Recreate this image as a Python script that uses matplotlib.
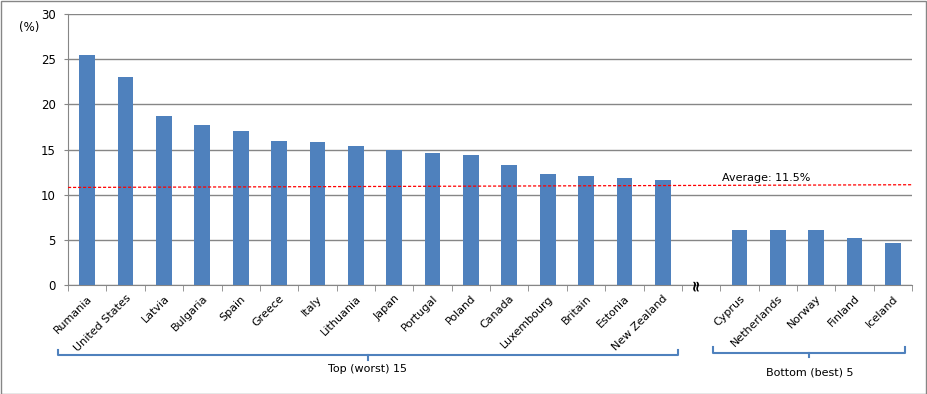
import numpy as np
import matplotlib.pyplot as plt

# top (worst) and bottom (best) groups
top_names = ["Rumania", "United States", "Latvia", "Bulgaria", "Spain", "Greece", "Italy",
             "Lithuania", "Japan", "Portugal", "Poland", "Canada", "Luxembourg", "Britain",
             "Estonia", "New Zealand"]
top_vals = [25.5, 23.0, 18.7, 17.7, 17.1, 15.9, 15.8, 15.4, 14.9, 14.6, 14.4, 13.3, 12.3, 12.1,
            11.8, 11.6]
bottom_names = ["Cyprus", "Netherlands", "Norway", "Finland", "Iceland"]
bottom_vals = [6.1, 6.1, 6.1, 5.2, 4.7]
avg_line = [10.8, 11.1]  # drawn slightly tilted in the original
avg_label = "Average: 11.5%"

blue = "#4F81BD"
grid = "#868686"

n_top = len(top_names)
x_top = np.arange(n_top)
x_bot = np.arange(len(bottom_names)) + n_top + 1
n_slots = n_top + 1 + len(bottom_names)

fig = plt.figure(figsize=(9.27, 3.94), dpi=100)
ax = fig.add_axes([0.0734, 0.2766, 0.9106, 0.6879])

ax.bar(x_top, top_vals, width=0.41, color=blue, zorder=3)
ax.bar(x_bot, bottom_vals, width=0.41, color=blue, zorder=3)

ax.set_xlim(-0.5, n_slots - 0.5)
ax.set_ylim(0, 30)
ax.set_yticks(range(0, 31, 5))
ax.yaxis.grid(True, color=grid, linewidth=1, zorder=0)
ax.tick_params(axis="y", labelsize=8.5, length=3, color=grid, pad=6)

ax.set_xticks(list(x_top) + list(x_bot))
ax.set_xticklabels(top_names + bottom_names, rotation=45, ha="right", rotation_mode="anchor",
                   fontsize=8)
ax.set_xticks(np.arange(-0.5, n_slots, 1), minor=True)
ax.tick_params(axis="x", which="major", length=0, pad=6)
ax.tick_params(axis="x", which="minor", length=4, color=grid)

for s in ["top", "right"]:
    ax.spines[s].set_visible(False)
ax.spines["left"].set_color(grid)
ax.spines["bottom"].set_color(grid)

# average line
ax.plot([-0.5, n_slots - 0.5], avg_line, color="#FF0000", linestyle="--", linewidth=0.9,
        dashes=(2.5, 1.5), zorder=4)
ax.text(16.55, 11.9, avg_label, fontsize=8, ha="left", va="center")

# axis break symbol
ax.text(15.85, 0, "≈", rotation=90, fontsize=11, fontweight="bold", ha="center", va="center",
        clip_on=False, zorder=5)

# group brackets
tr = ax.get_xaxis_transform()
def bracket(x0, x1, y, label, gap):
    xm = (x0 + x1) / 2
    ax.plot([x0, x0, x1, x1], [y + 0.02, y, y, y + 0.02], color=blue, linewidth=1.5,
            transform=tr, clip_on=False)
    ax.plot([xm, xm], [y, y - 0.015], color=blue, linewidth=1.5, transform=tr, clip_on=False)
    ax.text(xm, y - gap, label, fontsize=8, ha="center", va="center", transform=tr)

bracket(-0.76, 15.39, -0.26, "Top (worst) 15", 0.05)
bracket(16.32, 21.32, -0.25, "Bottom (best) 5", 0.072)

fig.text(0.02, 0.93, "(%)", fontsize=8.5, ha="left", va="center")

# outer frame
fig.patches.append(plt.Rectangle((0.001, 0.001), 0.998, 0.997, transform=fig.transFigure,
                                 fill=False, edgecolor=grid, linewidth=1))

fig.savefig("out.png", dpi=100)
